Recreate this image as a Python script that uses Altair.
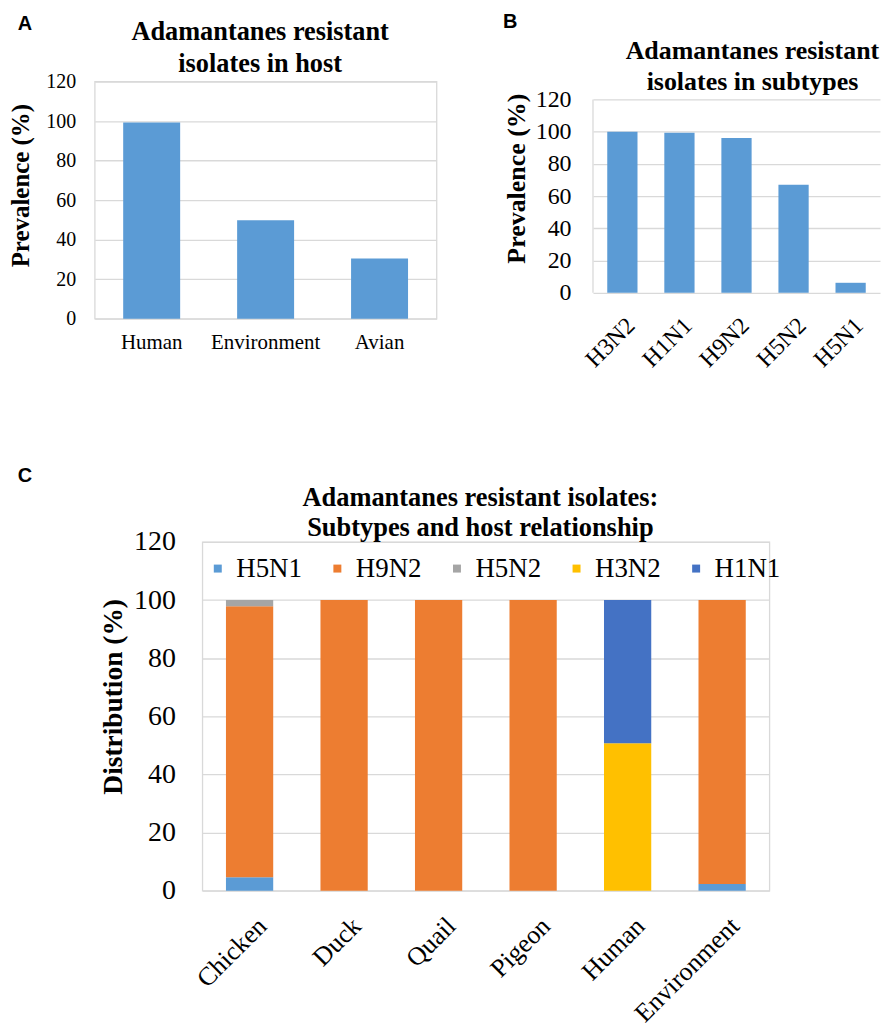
import altair as alt
import pandas as pd

# ---- Panel A: resistant isolates by host ----
host_cats = ["Human", "Environment", "Avian"]
host_vals = [99.2, 49.8, 30.4]

# ---- Panel B: resistant isolates by subtype ----
sub_cats = ["H3N2", "H1N1", "H9N2", "H5N2", "H5N1"]
sub_vals = [100.0, 99.3, 96.0, 67.0, 6.2]

# ---- Panel C: subtype distribution per host ----
c_hosts = ["Chicken", "Duck", "Quail", "Pigeon", "Human", "Environment"]
c_subtypes = ["H5N1", "H9N2", "H5N2", "H3N2", "H1N1"]
c_colors = ["#5B9BD5", "#ED7D31", "#A5A5A5", "#FFC000", "#4472C4"]
c_h5n1 = [4.6, 0, 0, 0, 0, 2.3]
c_h9n2 = [93.3, 100, 100, 100, 0, 97.7]
c_h5n2 = [2.1, 0, 0, 0, 0, 0]
c_h3n2 = [0, 0, 0, 0, 50.7, 0]
c_h1n1 = [0, 0, 0, 0, 49.3, 0]

y_ticks = [0, 20, 40, 60, 80, 100, 120]

SERIF = "Liberation Serif"
SANS = "Liberation Sans"
BAR = "#5B9BD5"
GRID = "#D9D9D9"

dfA = pd.DataFrame({"host": host_cats, "value": host_vals})
dfB = pd.DataFrame({"subtype": sub_cats, "value": sub_vals})
rows = []
for i, (series, vals) in enumerate(zip(c_subtypes, [c_h5n1, c_h9n2, c_h5n2, c_h3n2, c_h1n1])):
    for h, v in zip(c_hosts, vals):
        if v > 0:
            rows.append({"host": h, "subtype": series, "value": v, "order": i})
dfC = pd.DataFrame(rows)


def label(txt, dx, dy, size, font=SERIF):
    return alt.Chart(pd.DataFrame({"t": [txt]})).mark_text(
        font=font, fontWeight="bold", fontSize=size, align="center",
        baseline="middle", color="black"
    ).encode(text="t:N", x=alt.value(dx), y=alt.value(dy))


def anchor(dx, dy):
    # invisible point fixing the extent of a panel's cell
    return alt.Chart(pd.DataFrame({"t": [0]})).mark_point(
        filled=True, size=1, opacity=0, strokeWidth=0
    ).encode(x=alt.value(dx), y=alt.value(dy))


# ---- Chart A ----
barsA = alt.Chart(dfA).mark_bar(color=BAR).encode(
    x=alt.X("host:N", sort=host_cats,
            scale=alt.Scale(paddingInner=0.5, paddingOuter=0.25),
            axis=alt.Axis(title=None, labelAngle=0, labelFontSize=21, labelPadding=13)),
    y=alt.Y("value:Q", scale=alt.Scale(domain=[0, 120]),
            axis=alt.Axis(values=y_ticks, title="Prevalence (%)", labelFontSize=20,
                          labelPadding=19, titleFontSize=25, titlePadding=12,
                          titleFontWeight="bold", titleY=104)),
)
chartA = alt.layer(
    barsA,
    label("A", -70, -58, 20, SANS),
    label("Adamantanes resistant", 166, -50, 26.4),
    label("isolates in host", 166, -18, 26.4),
    anchor(-84, -70), anchor(400, 322),
).properties(width=343, height=238)

# ---- Chart B (plot box starts 18 px below the group top) ----
barsB = alt.Chart(dfB).mark_bar(color=BAR).encode(
    x=alt.X("subtype:N", sort=sub_cats,
            scale=alt.Scale(range=[0, 288], paddingInner=0.47, paddingOuter=0.25),
            axis=alt.Axis(title=None, labelAngle=-45, labelAlign="right",
                          labelBaseline="middle", labelFontSize=24,
                          labelOffset=9, labelPadding=29)),
    y=alt.Y("value:Q", scale=alt.Scale(domain=[0, 120], range=[212, 18]),
            axis=alt.Axis(values=y_ticks, title="Prevalence (%)", labelFontSize=24,
                          labelPadding=22, titleFontSize=26, titlePadding=6,
                          titleFontWeight="bold", titleY=97)),
)
leftB = alt.Chart(pd.DataFrame({"t": [0]})).mark_rule(
    color=GRID, strokeWidth=1.3
).encode(x=alt.value(0), y=alt.value(18), y2=alt.value(212))
chartB = alt.layer(
    barsB, leftB,
    label("B", -83, -59.5, 20, SANS),
    label("Adamantanes resistant", 160, -31, 26),
    label("isolates in subtypes", 160, 1, 26),
    anchor(-96, -70), anchor(286, 322),
).properties(width=286, height=212, view=alt.ViewBackground(stroke="transparent"))

# ---- Chart C ----
barsC = alt.Chart(dfC).mark_bar().encode(
    x=alt.X("host:N", sort=c_hosts,
            scale=alt.Scale(paddingInner=0.5, paddingOuter=0.25),
            axis=alt.Axis(title=None, labelAngle=-45, labelAlign="right",
                          labelBaseline="middle", labelFontSize=26,
                          labelOffset=13, labelPadding=31)),
    y=alt.Y("value:Q", stack="zero", scale=alt.Scale(domain=[0, 120]),
            axis=alt.Axis(values=y_ticks, title="Distribution (%)", labelFontSize=28,
                          labelPadding=27, titleFontSize=27.5, titlePadding=6,
                          titleFontWeight="bold", titleY=155)),
    color=alt.Color("subtype:N",
                    scale=alt.Scale(domain=c_subtypes, range=c_colors),
                    legend=alt.Legend(title=None, orient="none", legendX=2, legendY=13,
                                      direction="horizontal", symbolType="square",
                                      symbolSize=64, symbolStrokeWidth=0,
                                      labelFont=SERIF, labelFontSize=27, labelColor="black",
                                      labelOffset=5, columnPadding=22, padding=0)),
    order=alt.Order("order:Q", sort="ascending"),
)
chartC = alt.layer(
    barsC,
    label("Adamantanes resistant isolates:", 279, -44, 26.5),
    label("Subtypes and host relationship", 279, -14, 26.5),
    anchor(-104, -136),
).properties(width=569, height=350)

# narrow cell left of panel C; its origin lines up with panel A's plot origin
spacerC = alt.layer(
    label("C", -70, -66, 20, SANS),
).properties(width=1, height=350, view=alt.ViewBackground(stroke="transparent"))

top_row = alt.hconcat(chartA, chartB, spacing=0)
bottom_row = alt.hconcat(spacerC, chartC, spacing=0).resolve_scale(
    color="independent"
).resolve_legend(color="independent")
chart = alt.vconcat(top_row, bottom_row, spacing=0).resolve_scale(
    color="independent"
).resolve_legend(color="independent").properties(
    padding=0
).configure_axis(
    domain=False, ticks=False, gridColor=GRID, gridWidth=1.3,
    labelFont=SERIF, titleFont=SERIF, labelColor="black", titleColor="black",
).configure_axisX(grid=False).configure_view(
    stroke=GRID, strokeWidth=1.3
)

chart.save("out.html", embed_options={"renderer": "svg", "actions": False})
